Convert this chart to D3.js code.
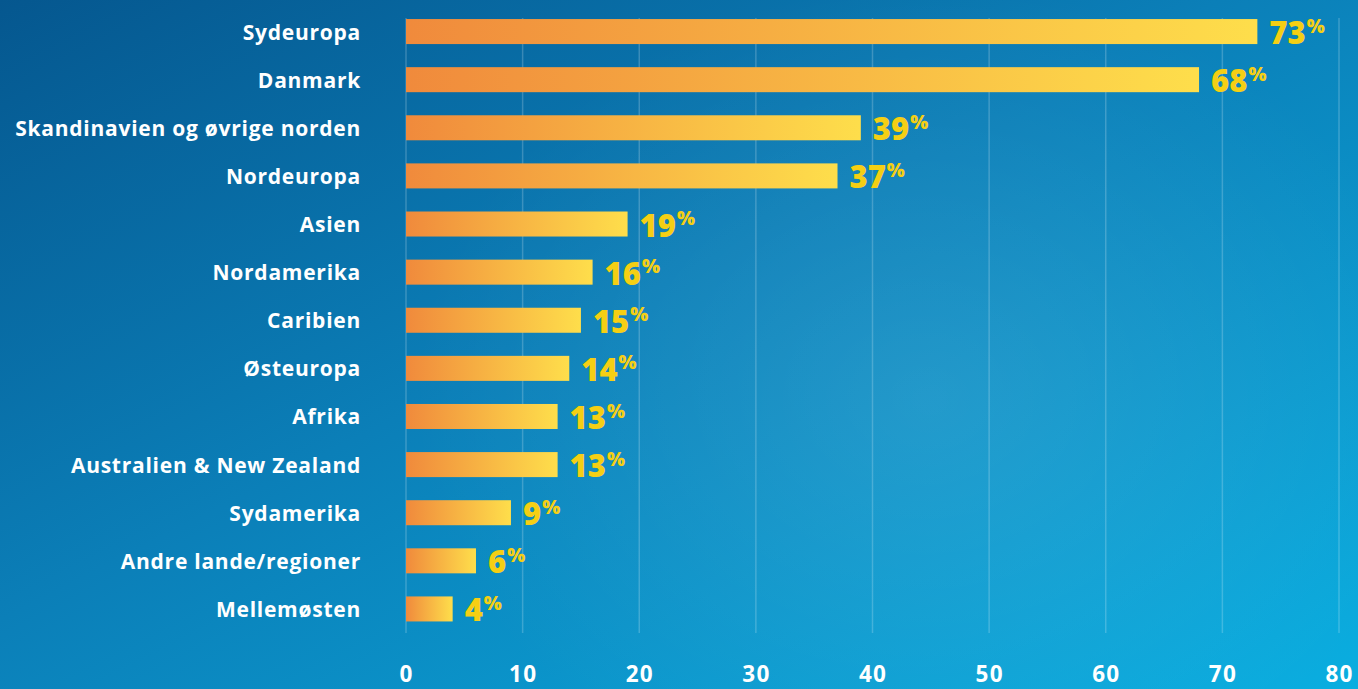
<!DOCTYPE html>
<html><head><meta charset="utf-8">
<script src="https://cdn.jsdelivr.net/npm/d3@7"></script>
<style>
html,body{margin:0;padding:0;overflow:hidden;background:#0a7fb8;}
svg{display:block;}
</style></head>
<body>
<svg id="chart" width="1358" height="689"></svg>
<script>
const categories = ["Sydeuropa","Danmark","Skandinavien og øvrige norden","Nordeuropa","Asien","Nordamerika","Caribien","Østeuropa","Afrika","Australien & New Zealand","Sydamerika","Andre lande/regioner","Mellemøsten"];
const values = [73,68,39,37,19,16,15,14,13,13,9,6,4];
const tickValues = [0,10,20,30,40,50,60,70,80];

const W = 1358, H = 689;
const svg = d3.select("#chart");
const defs = svg.append("defs");

// background
const bg = defs.append("linearGradient").attr("id","bg").attr("x1","0").attr("y1","0").attr("x2","1").attr("y2","1");
bg.append("stop").attr("offset","0").attr("stop-color","#05578f");
bg.append("stop").attr("offset","0.45").attr("stop-color","#0b7fb8");
bg.append("stop").attr("offset","1").attr("stop-color","#0aaee0");
svg.append("rect").attr("width",W).attr("height",H).attr("fill","url(#bg)");
const glow = defs.append("radialGradient").attr("id","glow").attr("cx","0.5").attr("cy","0.5").attr("r","0.5");
glow.append("stop").attr("offset","0").attr("stop-color","#ffffff").attr("stop-opacity",0.10);
glow.append("stop").attr("offset","1").attr("stop-color","#ffffff").attr("stop-opacity",0);
svg.append("ellipse").attr("cx",930).attr("cy",400).attr("rx",520).attr("ry",420).attr("fill","url(#glow)");

const barGrad = defs.append("linearGradient").attr("id","bar").attr("x1","0").attr("y1","0").attr("x2","1").attr("y2","0");
barGrad.append("stop").attr("offset","0").attr("stop-color","#f08a3c");
barGrad.append("stop").attr("offset","1").attr("stop-color","#fede4b");

const x = d3.scaleLinear().domain([0,80]).range([406,1339]);
const y = d3.scaleBand().domain(categories).range([7.5,633]).paddingInner(0.48).paddingOuter(0.24);

// gridlines
svg.append("g").selectAll("line").data(tickValues).join("line")
  .attr("x1",d=>x(d)).attr("x2",d=>x(d)).attr("y1",18).attr("y2",633)
  .attr("stroke","#ffffff").attr("stroke-opacity",0.2).attr("stroke-width",1.5);

// x axis labels
const xAxis = d3.axisBottom(x).tickValues(tickValues).tickSize(0).tickPadding(0);
const ax = svg.append("g").attr("transform","translate(0,666)").call(xAxis);
ax.select(".domain").remove();
ax.selectAll("text").attr("fill","#ffffff").attr("font-family","'Open Sans', sans-serif")
  .attr("font-weight",700).attr("font-size",22.5).attr("letter-spacing",1.2).attr("dy","0.71em");

// category labels
const yAxis = d3.axisLeft(y).tickSize(0).tickPadding(0);
const ay = svg.append("g").attr("transform","translate(361,0)").call(yAxis);
ay.select(".domain").remove();
ay.selectAll("text").attr("fill","#ffffff").attr("font-family","'Open Sans', sans-serif")
  .attr("font-weight",700).attr("font-size",21).attr("letter-spacing",0.75).attr("dy","0.38em");

// bars
svg.append("g").selectAll("rect").data(values).join("rect")
  .attr("x",x(0)).attr("y",(d,i)=>y(categories[i]))
  .attr("width",d=>x(d)-x(0)).attr("height",y.bandwidth())
  .attr("fill","url(#bar)");

// value labels
const lab = svg.append("g").selectAll("text").data(values).join("text")
  .attr("x",d=>x(d)+12).attr("y",(d,i)=>y(categories[i])+y.bandwidth())
  .attr("fill","#f5cf14").attr("font-family","'Open Sans', sans-serif").attr("font-weight",800)
  .attr("font-size",31).attr("letter-spacing",0);
lab.append("tspan").text(d=>d);
lab.append("tspan").text("%").attr("font-size",19).attr("dy","-0.6em").attr("dx",1);
</script>
</body></html>
